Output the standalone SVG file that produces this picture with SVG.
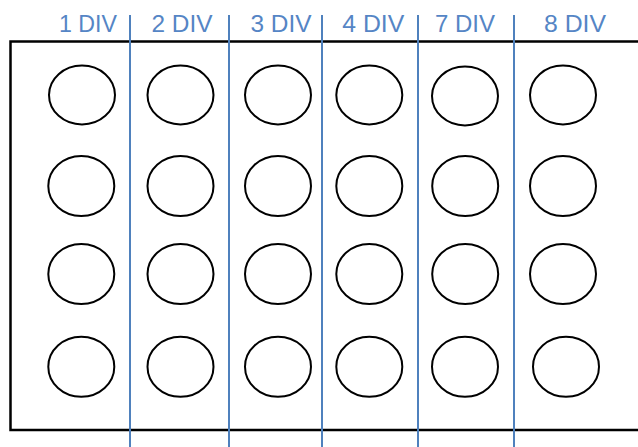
<svg xmlns="http://www.w3.org/2000/svg" width="638" height="447" viewBox="0 0 638 447">
<style>
.frame{fill:none;stroke:#000;stroke-width:2.5}
.well{fill:#fff;stroke:#000;stroke-width:2}
.div{stroke:#4F81BD;stroke-width:2}
.lbl{font-family:"Liberation Sans",Arial,sans-serif;font-size:24px;fill:#5585C5;text-anchor:middle}
</style>
<rect width="638" height="447" fill="#fff"/>
<g id="plate">
<path class="frame" d="M645,41.5 H10.5 V430 H645"/>
</g>
<g id="wells">
<g id="row1">
<ellipse class="well" cx="82" cy="95" rx="33" ry="29.5"/>
<ellipse class="well" cx="180.5" cy="95" rx="33" ry="29.5"/>
<ellipse class="well" cx="278" cy="95" rx="33" ry="29.5"/>
<ellipse class="well" cx="369.3" cy="95" rx="33" ry="29.5"/>
<ellipse class="well" cx="465" cy="96" rx="33" ry="29.5"/>
<ellipse class="well" cx="563" cy="95" rx="33" ry="29.5"/>
</g>
<g id="row2">
<ellipse class="well" cx="81.3" cy="186" rx="33" ry="30"/>
<ellipse class="well" cx="180.5" cy="186" rx="33" ry="30"/>
<ellipse class="well" cx="278" cy="186" rx="33" ry="30"/>
<ellipse class="well" cx="369.3" cy="186" rx="33" ry="30"/>
<ellipse class="well" cx="465.2" cy="186" rx="33" ry="30"/>
<ellipse class="well" cx="563" cy="186" rx="33" ry="30"/>
</g>
<g id="row3">
<ellipse class="well" cx="81.3" cy="274" rx="33" ry="30"/>
<ellipse class="well" cx="180.5" cy="274" rx="33" ry="30"/>
<ellipse class="well" cx="278" cy="274" rx="33" ry="30"/>
<ellipse class="well" cx="369.3" cy="274" rx="33" ry="30"/>
<ellipse class="well" cx="465.2" cy="274" rx="33" ry="30"/>
<ellipse class="well" cx="563" cy="274" rx="33" ry="30"/>
</g>
<g id="row4">
<ellipse class="well" cx="81.3" cy="366.7" rx="33" ry="30"/>
<ellipse class="well" cx="180.5" cy="366.7" rx="33" ry="30"/>
<ellipse class="well" cx="278" cy="366.7" rx="33" ry="30"/>
<ellipse class="well" cx="369.3" cy="366.7" rx="33" ry="30"/>
<ellipse class="well" cx="465" cy="366.7" rx="33" ry="30"/>
<ellipse class="well" cx="566" cy="366.7" rx="33" ry="30"/>
</g>
</g>
<g id="dividers">
<line class="div" x1="130" y1="15" x2="130" y2="447"/>
<line class="div" x1="229" y1="15" x2="229" y2="447"/>
<line class="div" x1="322" y1="15" x2="322" y2="447"/>
<line class="div" x1="418" y1="15" x2="418" y2="447"/>
<line class="div" x1="514" y1="15" x2="514" y2="447"/>
</g>
<g id="labels">
<text class="lbl" x="88" y="32" textLength="58" lengthAdjust="spacingAndGlyphs">1 DIV</text>
<text class="lbl" x="182" y="32" textLength="61" lengthAdjust="spacingAndGlyphs">2 DIV</text>
<text class="lbl" x="281" y="32" textLength="61" lengthAdjust="spacingAndGlyphs">3 DIV</text>
<text class="lbl" x="373.3" y="32" textLength="62" lengthAdjust="spacingAndGlyphs">4 DIV</text>
<text class="lbl" x="465" y="32" textLength="60" lengthAdjust="spacingAndGlyphs">7 DIV</text>
<text class="lbl" x="575" y="32" textLength="62" lengthAdjust="spacingAndGlyphs">8 DIV</text>
</g>
</svg>
